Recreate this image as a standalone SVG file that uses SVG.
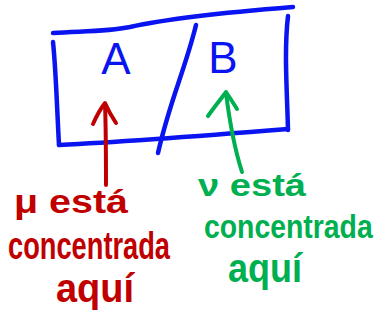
<svg xmlns="http://www.w3.org/2000/svg" width="387" height="326" viewBox="0 0 387 326">
<style>
.ink{fill:none;stroke-linecap:round;stroke-linejoin:round}
.blue{stroke:#0a14f0;stroke-width:4.5}
.red{stroke:#c00000;stroke-width:4}
.green{stroke:#00b050;stroke-width:4}
.lbl{font-family:"Liberation Sans",Arial,sans-serif;fill:#0a14f0;font-size:44px;text-anchor:middle}
.rt{font-family:"Liberation Sans",Arial,sans-serif;fill:#c00000;font-weight:bold}
.gt{font-family:"Liberation Sans",Arial,sans-serif;fill:#00b050;font-weight:bold}
</style>
<rect width="387" height="326" fill="#ffffff"/>
<g id="box">
<path class="ink blue" d="M53,33 C80,31 105,32 130,27 C170,18 230,12 293,7"/>
<path class="ink blue" d="M53,42 C56,70 57,110 59,145"/>
<path class="ink blue" d="M59,145 C120,142 200,136 288,129"/>
<path class="ink blue" d="M288,16 C284,50 287,90 288,130"/>
<path class="ink blue" d="M196,25 C185,70 170,100 158,153"/>
</g>
<g id="regionA">
<text class="lbl" x="116" y="74">A</text>
</g>
<g id="regionB">
<text class="lbl" x="223" y="73">B</text>
</g>
<g id="connectors">
<path class="ink red" d="M106,185 C106,160 106,130 105,104"/>
<path class="ink red" d="M93,124 C97,115 101,108 105,103 C108,110 112,117 116,123"/>
<path class="ink green" d="M242,172 C235,150 230,125 226,93"/>
<path class="ink green" d="M208,116 C215,106 221,99 226,92 C230,98 234,104 237,109"/>
</g>
<g id="labelMu">
<text class="rt" x="14" y="213" font-size="34" textLength="114" lengthAdjust="spacingAndGlyphs">μ está</text>
<text class="rt" x="8" y="259" font-size="38" textLength="162" lengthAdjust="spacingAndGlyphs">concentrada</text>
<text class="rt" x="56" y="302" font-size="40" textLength="78" lengthAdjust="spacingAndGlyphs">aquí</text>
</g>
<g id="labelNu">
<text class="gt" x="198" y="196" font-size="32" textLength="108" lengthAdjust="spacingAndGlyphs">ν está</text>
<text class="gt" transform="translate(204,238) scale(0.86,1)" x="0" y="0" font-size="33">concentrada</text>
<text class="gt" x="228" y="282" font-size="40" textLength="74" lengthAdjust="spacingAndGlyphs">aquí</text>
</g>
</svg>
